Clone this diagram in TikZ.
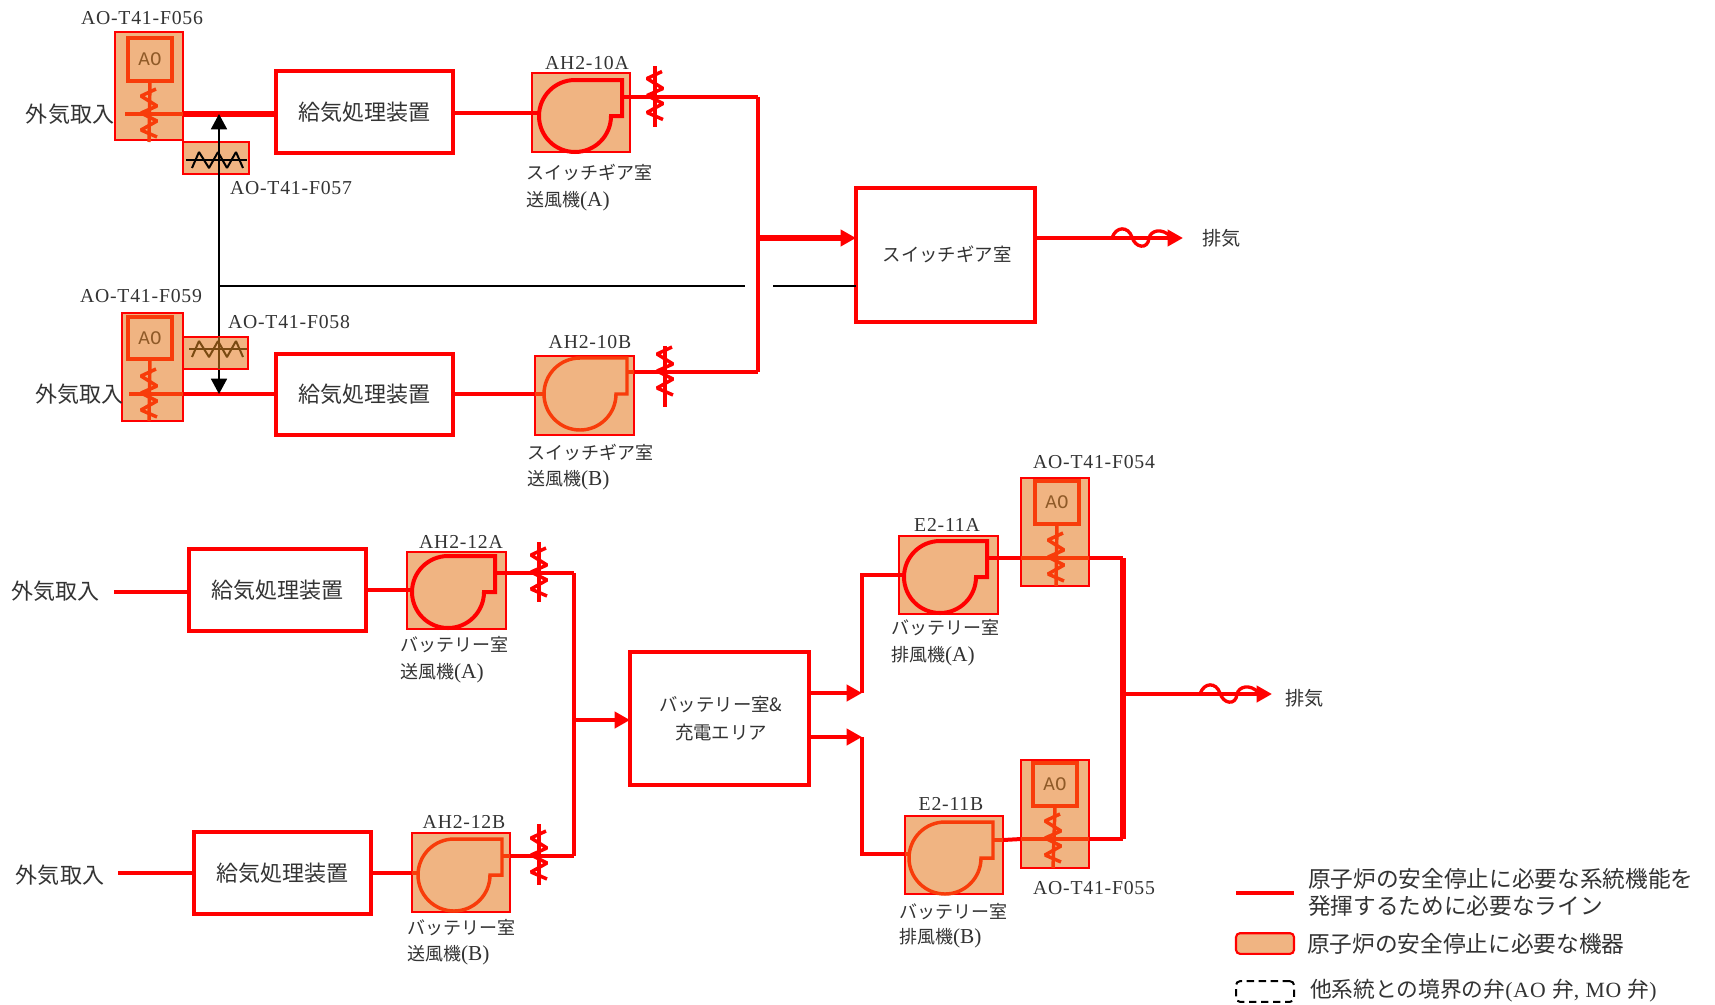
\documentclass[tikz,border=0pt]{standalone}
\usepackage{fontspec}
\setmainfont{Noto Sans CJK JP}
\newfontfamily\lat[LetterSpace=4]{Liberation Serif}
\newfontfamily\latb{Liberation Serif}
\newfontfamily\mon{Liberation Mono}
\usetikzlibrary{arrows.meta}
\definecolor{eq}{HTML}{F0B482}
\definecolor{vl}{HTML}{F83C0A}
\definecolor{rd}{HTML}{FF0000}
\definecolor{tx}{HTML}{333333}
\definecolor{brn}{HTML}{7A4A12}
\definecolor{aot}{HTML}{8F5A28}
\tikzset{
  x=0.75pt,y=-0.75pt,
  every node/.style={inner sep=0pt,outer sep=0pt,text=tx},
  eqbox/.style={draw=rd,fill=eq,line width=1.6pt},
  whitebox/.style={draw=rd,fill=white,line width=3pt},
  aobox/.style={draw=vl,fill=eq,line width=2.6pt},
  aotext/.style={font=\mon\fontsize{14.4}{15}\selectfont,text=aot},
  rl/.style={draw=rd,line width=3pt},
  rlt/.style={draw=rd,line width=3.8pt},
  vline/.style={draw=vl,line width=2.6pt},
  zig/.style={line width=2.6pt,line join=bevel},
  arr/.style={-{Triangle[length=11.5pt,width=12pt]}},
  bk/.style={draw=black,line width=1.3pt},
  lab/.style={font=\lat\fontsize{14.8}{15}\selectfont},
  gen/.style={font=\fontsize{16.5}{18}\selectfont},
  sm/.style={font=\fontsize{13.5}{16}\selectfont,anchor=west},
  leg/.style={font=\fontsize{17}{18}\selectfont,anchor=west},
  ext/.style={font=\fontsize{14.4}{16}\selectfont},
  room/.style={font=\fontsize{13.8}{16}\selectfont}
}
% box node from its edges
\newcommand\bx[6]{\node[#1,minimum width={(#5-#3)*0.75pt},minimum height={(#6-#4)*0.75pt}] (#2) at ({(#3+#5)/2},{(#4+#6)/2}) {};}
% spring zigzag
\newcommand\spr[3]{\draw[zig,#3] ({#1+7},{#2-25}) -- ({#1-8},{#2-18}) -- ({#1+8},{#2-8}) -- ({#1-8},{#2-1}) -- ({#1+8},{#2+7}) -- ({#1-8},{#2+16}) -- ({#1+8},{#2+23});}
% heater zigzag
\newcommand\htr[3]{\draw[#3,line width=1.5pt,line join=bevel] ({#1-27},{#2+8}) -- ({#1-20},{#2-8}) -- ({#1-10},{#2+8}) -- ({#1-1},{#2-8}) -- ({#1+8},{#2+8}) -- ({#1+17},{#2-8}) -- ({#1+24},{#2+8});}
% fan casing: style, name, cx, cy, right edge, inlet y, outlet y
\newcommand\fan[7]{%
  \draw[#1,line join=miter] (#3,{#4-36}) -- (#5,{#4-36}) -- (#5,#4) -- ({#3+36},#4) arc[start angle=0,end angle=-270,radius=27pt];
  \coordinate (#2-in) at ({#3-36},#6);
  \coordinate (#2-out) at (#5,#7);}
% wiggle on an exhaust line
\newcommand\wig[2]{\draw[draw=rd,line width=2.5pt,line cap=round] (#1,#2) .. controls ({#1+4},{#2-12}) and ({#1+16},{#2-12}) .. ({#1+20},{#2-1}) .. controls ({#1+23},{#2+10}) and ({#1+36},{#2+12}) .. ({#1+37},{#2}) .. controls ({#1+39},{#2-8}) and ({#1+50},{#2-10}) .. ({#1+58},{#2-2});}
\begin{document}
\begin{tikzpicture}
\useasboundingbox (0,0) rectangle (1715,1004);
\fill[white] (0,0) rectangle (1715,1004);

% ---------- upper train A
\bx{eqbox}{v56}{115}{32}{183}{140}
\bx{aobox}{a56}{128}{38}{172}{81}
\node[aotext] (a56t) at (a56) {AO};
\draw[vline] (a56.south) -- (149,142);
\spr{149}{114}{draw=vl}
\coordinate (v56l) at (125,114);
\draw[vline] (v56l) -- (v56l -| v56.east);
\bx{whitebox}{g1}{276}{71}{453}{153}
\node[gen] (g1t) at (g1) {給気処理装置};
\draw[rlt] (v56l -| v56.east) -- (v56l -| g1.west);
\bx{eqbox}{h57}{183}{142}{249}{174}
\draw[bk] (186,160) -- (247,160);
\htr{219}{160}{draw=black}

\bx{eqbox}{p10a}{532}{73}{630}{152}
\fan{rl}{fa}{575}{116}{622}{113}{96.5}
\draw[rl] (fa-in -| g1.east) -- (fa-in);
\coordinate (va) at (655,96.5);
\coordinate (jt) at (758,96.5);
\draw[rl] (fa-out) -- (jt);
\draw[rl] (655,66) -- (655,127);
\spr{655}{96.5}{draw=rd}

% ---------- upper train B
\coordinate (bkt) at (219,286);
\coordinate (atop) at (219,114);
\coordinate (abot) at (219,394);
\bx{whitebox}{g2}{276}{354}{453}{435}
\node[gen] (g2t) at (g2) {給気処理装置};
\draw[rl,line width=3pt] (183,394) -- (276,394);
\draw[bk,arr] (219,300) -- (atop);
\draw[bk,arr] (219,300) -- (abot);
\bx{eqbox}{h58}{182}{337}{248}{369}
\draw[draw=brn,line width=1.3pt] (189,349) -- (247,349);
\draw[draw=brn,line width=1.3pt] (219,337) -- (219,369);
\htr{219}{349}{draw=brn}

\bx{eqbox}{v59}{122}{313}{183}{421}
\bx{aobox}{a59}{128}{317}{172}{359}
\node[aotext] (a59t) at (a59) {AO};
\draw[vline] (a59.south) -- (149,421);
\spr{149}{394}{draw=vl}
\draw[vline] (129,394) -- (183,394);

\bx{eqbox}{p10b}{535}{356}{634}{435}
\fan{vline}{fb}{580}{394}{627}{394}{372}
\draw[vline] (fb-in -| p10b.west) -- (fb-in);
\draw[vline] (fb-out) -- (fb-out -| p10b.east);
\draw[rl] (fb-in -| g2.east) -- (fb-in -| p10b.west);
\coordinate (jb) at (758,372);
\draw[rl] (fb-out -| p10b.east) -- (jb);
\draw[rl] (665,346) -- (665,407);
\spr{665}{372}{draw=rd}
\draw[draw=rd,line width=3.6pt,line cap=square] (jt) -- (jb);

% ---------- switchgear room
\bx{whitebox}{r1}{856}{188}{1035}{322}
\node[room] (r1t) at (947,254) {スイッチギア室};
\coordinate (jm) at (758,238);
\draw[rlt,arr] (jm) -- (jm -| r1.west);
\coordinate (ex1) at (1183,238);
\draw[rl,arr] (ex1 -| r1.east) -- (ex1);
\wig{1112}{238}
\node[ext,anchor=west] (ex1t) at (1202,238) {排気};
\coordinate (bkm) at (745,286);
\coordinate (bkr) at (773,286);
\draw[bk] (bkt) -- (bkm);
\draw[bk] (bkr) -- (bkr -| r1.west);

% ---------- lower supply
\bx{whitebox}{g3}{189}{549}{366}{631}
\node[gen] (g3t) at (g3) {給気処理装置};
\coordinate (o3) at (114,592);
\draw[rl] (o3) -- (o3 -| g3.west);
\bx{eqbox}{p12a}{407}{552}{506}{629}
\fan{rl}{fc}{448}{592}{495}{590}{573}
\draw[rl] (fc-in -| g3.east) -- (fc-in);
\coordinate (jc) at (574,573);
\draw[rl] (fc-out) -- (jc);
\draw[rl] (539,542) -- (539,602);
\spr{539}{573}{draw=rd}

\bx{whitebox}{g4}{194}{832}{371}{914}
\node[gen] (g4t) at (g4) {給気処理装置};
\coordinate (o4) at (118,873);
\draw[rl] (o4) -- (o4 -| g4.west);
\bx{eqbox}{p12b}{412}{833}{510}{912}
\fan{vline}{fd}{454}{875}{502}{873}{856}
\draw[vline] (fd-in -| p12b.west) -- (fd-in);
\draw[vline] (fd-out) -- (fd-out -| p12b.east);
\draw[rl] (fd-in -| g4.east) -- (fd-in -| p12b.west);
\coordinate (jd) at (574,856);
\draw[rl] (fd-out -| p12b.east) -- (jd);
\draw[rl] (539,824) -- (539,885);
\spr{539}{856}{draw=rd}
\draw[draw=rd,line width=3pt,line cap=square] (jc) -- (jd);

% ---------- battery room
\bx{whitebox}{r2}{630}{652}{809}{785}
\node[room] (r2t) at (721,704) {バッテリー室\&};
\node[room] (r2u) at (721,732) {充電エリア};
\coordinate (jn) at (574,720);
\draw[rl,arr] (jn) -- (jn -| r2.west);

\bx{eqbox}{e11a}{899}{536}{998}{614}
\fan{rl}{fe}{940}{577}{987}{575}{558}
\coordinate (ue) at (862,693);
\coordinate (uf) at (862,575);
\draw[draw=rd,line width=3.6pt] (ue) -- (uf) -- (fe-in);
\draw[rl,arr] (ue -| r2.east) -- (ue);

\bx{eqbox}{e11b}{905}{816}{1003}{894}
\fan{vline}{ff}{945}{858}{993}{854}{840}
\draw[vline] (ff-in -| e11b.west) -- (ff-in);
\draw[vline] (ff-out) -- (ff-out -| e11b.east);
\coordinate (le) at (862,737);
\coordinate (lf) at (862,854);
\draw[rl] (le) -- (lf) -- (ff-in -| e11b.west);
\draw[rl,arr] (le -| r2.east) -- (le);

% ---------- exhaust valves
\bx{eqbox}{v54}{1021}{478}{1089}{586}
\bx{aobox}{a54}{1035}{481}{1079}{524}
\node[aotext] (a54t) at (a54) {AO};
\draw[vline] (a54.south) -- (1056,586);
\spr{1056}{558}{draw=vl}
\bx{eqbox}{v55}{1021}{760}{1089}{868}
\bx{aobox}{a55}{1033}{763}{1077}{806}
\node[aotext] (a55t) at (a55) {AO};
\draw[vline] (a55.south) -- (1053,868);
\spr{1053}{839}{draw=vl}
\coordinate (x1) at (1123,558);
\coordinate (x2) at (1123,839);
\draw[rl] (fe-out) -- (x1 -| v54.west);
\draw[vline] (x1 -| v54.west) -- (x1 -| v54.east);
\draw[rl] (x1 -| v54.east) -- (x1);
\draw[rl] (ff-out -| e11b.east) -- (x2 -| v55.west);
\draw[vline] (x2 -| v55.west) -- (x2 -| v55.east);
\draw[rl] (x2 -| v55.east) -- (x2);
\draw[draw=rd,line width=3.8pt,line cap=square] (x1) -- (x2);
\coordinate (x3) at (1123,694);
\coordinate (ex2) at (1272,694);
\draw[rl,arr] (x3) -- (ex2);
\wig{1200}{694}
\node[ext,anchor=west] (ex2t) at (1285,698) {排気};

% ---------- labels
\node[lab] (l56) at (142,18) {AO-T41-F056};
\node[lab] (l57) at (291,188) {AO-T41-F057};
\node[lab] (l58) at (289,322) {AO-T41-F058};
\node[lab] (l59) at (141,296) {AO-T41-F059};
\node[lab] (l54) at (1094,462) {AO-T41-F054};
\node[lab] (l55) at (1094,888) {AO-T41-F055};
\node[lab] (l10a) at (587,63) {AH2-10A};
\node[lab] (l10b) at (590,342) {AH2-10B};
\node[lab] (l12a) at (461,542) {AH2-12A};
\node[lab] (l12b) at (464,822) {AH2-12B};
\node[lab] (le1) at (947,525) {E2-11A};
\node[lab] (le2) at (951,804) {E2-11B};
\node[gen] (o1) at (70,114) {外気取入};
\node[gen] (o2) at (79,394) {外気取入};
\node[gen] (o5) at (56,591) {外気取入};
\node[gen] (o6) at (60,875) {外気取入};
\newcommand\paren[1]{{\latb\fontsize{16}{16}\selectfont(#1)}}
\node[sm] (n1) at (526,173) {スイッチギア室};
\node[sm] (n2) at (526,201) {送風機\paren{A}};
\node[sm] (n3) at (527,452) {スイッチギア室};
\node[sm] (n4) at (527,480) {送風機\paren{B}};
\node[sm] (n5) at (400,645) {バッテリー室};
\node[sm] (n6) at (400,673) {送風機\paren{A}};
\node[sm] (n7) at (407,928) {バッテリー室};
\node[sm] (n8) at (407,955) {送風機\paren{B}};
\node[sm] (n9) at (891,628) {バッテリー室};
\node[sm] (n10) at (891,656) {排風機\paren{A}};
\node[sm] (n11) at (899,912) {バッテリー室};
\node[sm] (n12) at (899,938) {排風機\paren{B}};

% ---------- legend
\coordinate (k1) at (1236,893);
\coordinate (k2) at (1294,893);
\draw[rl] (k1) -- (k2);
\node[leg] (t1) at (1308,879) {原子炉の安全停止に必要な系統機能を};
\node[leg] (t2) at (1308,906) {発揮するために必要なライン};
\node[eqbox,rounded corners=3pt,minimum width=43.5pt,minimum height=15.5pt] (k3) at (1265,943.5) {};
\node[leg] (t3) at (1307,944) {原子炉の安全停止に必要な機器};
\node[draw=black,dash pattern=on 5.5pt off 3.5pt,line width=1.5pt,rounded corners=3pt,minimum width=43.5pt,minimum height=15.5pt] (k4) at (1265,991.5) {};
\node[leg,font=\fontsize{16.3}{18}\selectfont] (t4) at (1310,991) {他系統との境界の弁{\lat(AO }弁{\lat, MO }弁{\lat)}};
\end{tikzpicture}
\end{document}
